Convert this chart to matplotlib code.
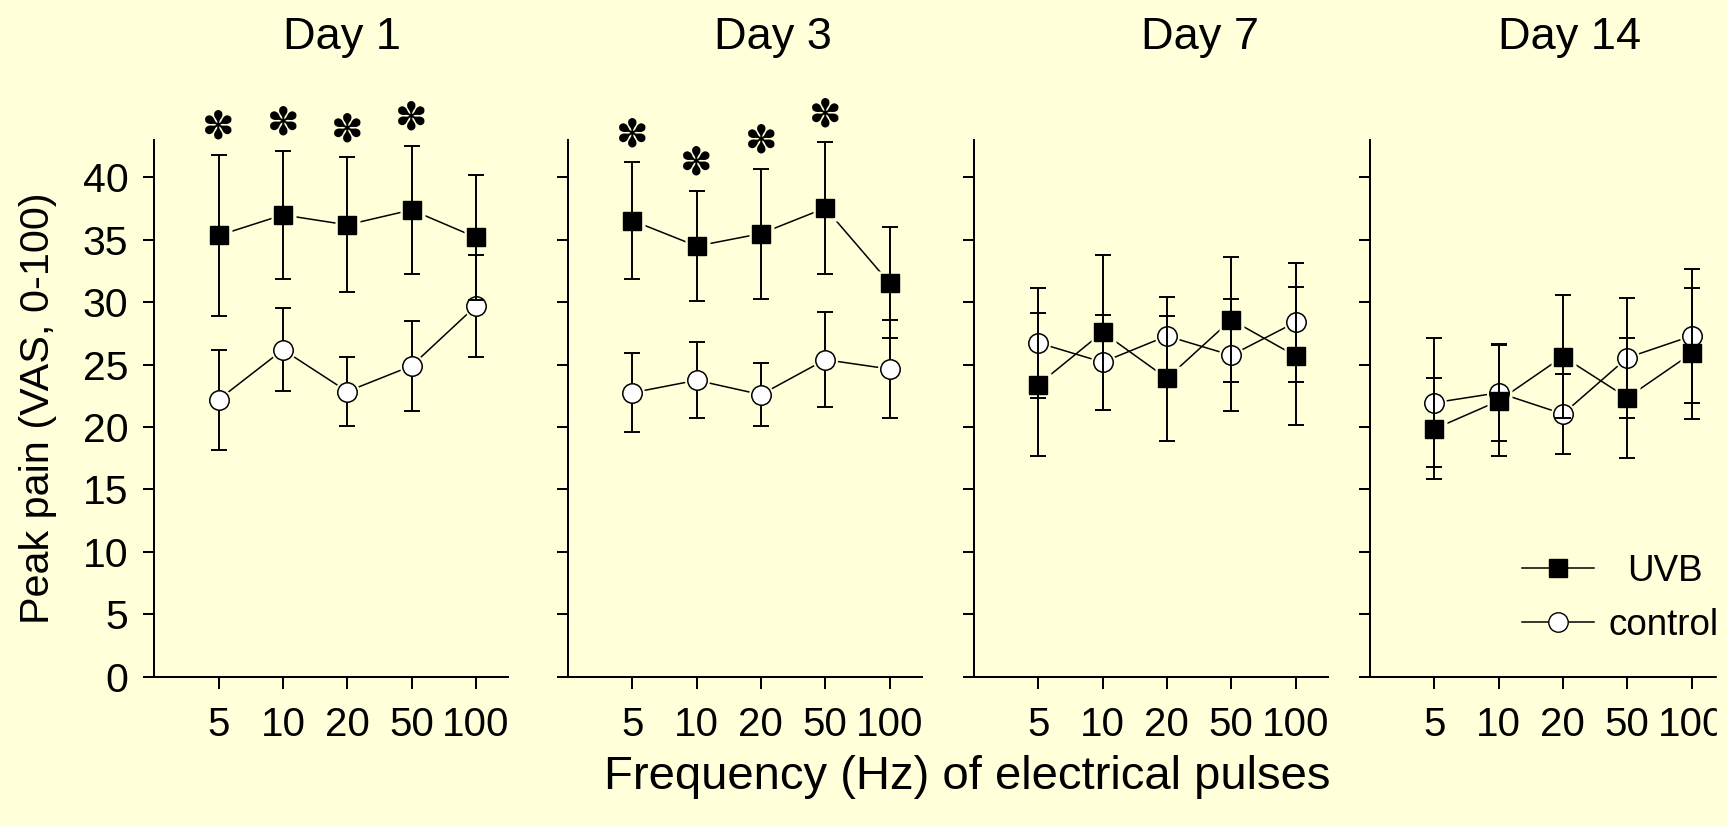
import matplotlib.pyplot as plt
from matplotlib.lines import Line2D
from matplotlib.patches import Rectangle
from matplotlib.transforms import blended_transform_factory

plt.rcParams['font.family'] = ['Liberation Sans', 'DejaVu Sans']

# peak pain (VAS 0-100), mean +/- error
freq_labels = ['5', '10', '20', '50', '100']
day_names = ['Day 1', 'Day 3', 'Day 7', 'Day 14']

uvb_d1 = [35.35, 37.0, 36.2, 37.4, 35.2]
uvb_d1_err = [6.45, 5.1, 5.4, 5.1, 5.0]
ctl_d1 = [22.2, 26.2, 22.85, 24.9, 29.7]
ctl_d1_err = [4.0, 3.3, 2.8, 3.6, 4.05]

uvb_d3 = [36.55, 34.5, 35.5, 37.55, 31.55]
uvb_d3_err = [4.65, 4.4, 5.2, 5.25, 4.45]
ctl_d3 = [22.75, 23.75, 22.6, 25.4, 24.65]
ctl_d3_err = [3.15, 3.05, 2.5, 3.8, 3.95]

uvb_d7 = [23.4, 27.6, 23.9, 28.6, 25.7]
uvb_d7_err = [5.7, 6.2, 5.0, 5.0, 5.5]
ctl_d7 = [26.75, 25.2, 27.3, 25.75, 28.4]
ctl_d7_err = [4.4, 3.8, 3.1, 4.5, 4.75]

uvb_d14 = [19.85, 22.1, 25.65, 22.35, 25.9]
uvb_d14_err = [4.05, 4.45, 4.95, 4.8, 5.25]
ctl_d14 = [21.95, 22.75, 21.05, 25.55, 27.3]
ctl_d14_err = [5.15, 3.9, 3.2, 4.8, 5.35]

# significant UVB vs control (asterisk)
sig_d1 = [1, 1, 1, 1, 0]
sig_d3 = [1, 1, 1, 1, 0]
sig_d7 = [0, 0, 0, 0, 0]
sig_d14 = [0, 0, 0, 0, 0]

panels = [
    (uvb_d1, uvb_d1_err, ctl_d1, ctl_d1_err, sig_d1),
    (uvb_d3, uvb_d3_err, ctl_d3, ctl_d3_err, sig_d3),
    (uvb_d7, uvb_d7_err, ctl_d7, ctl_d7_err, sig_d7),
    (uvb_d14, uvb_d14_err, ctl_d14, ctl_d14_err, sig_d14),
]

bg = '#ffffd9'
W, H = 1727, 826
fig = plt.figure(figsize=(W / 100, H / 100), dpi=100, facecolor=bg)

ax_left = [154.3, 568, 974, 1370]
ax_w = 353.7
title_x = [342, 772.5, 1200, 1570]
xpos = list(range(1, len(freq_labels) + 1))

for i, (uvb, uvb_err, ctl, ctl_err, sig) in enumerate(panels):
    ax = fig.add_axes([ax_left[i] / W, (H - 676.7) / H, ax_w / W, (676.7 - 140) / H])
    ax.set_facecolor(bg)

    # connecting lines, with a halo round each marker so lines stop short
    ax.plot(xpos, ctl, color='k', lw=1.1, zorder=1)
    ax.plot(xpos, uvb, color='k', lw=1.1, zorder=1)
    ax.plot(xpos, ctl, ls='none', marker='o', ms=18, mfc=bg, mec='none', zorder=1.5)
    ax.plot(xpos, uvb, ls='none', marker='s', ms=18, mfc=bg, mec='none', zorder=1.5)

    ax.errorbar(xpos, ctl, yerr=ctl_err, fmt='none', ecolor='k', elinewidth=1.4,
                capsize=6, capthick=1.4, zorder=3)
    ax.plot(xpos, ctl, ls='none', marker='o', ms=14, mfc='white', mec='k', mew=1.1, zorder=4)
    ax.errorbar(xpos, uvb, yerr=uvb_err, fmt='none', ecolor='k', elinewidth=1.4,
                capsize=6, capthick=1.4, zorder=5)
    ax.plot(xpos, uvb, ls='none', marker='s', ms=13.5, mfc='k', mec='k', zorder=6)

    for xp, m, e, s in zip(xpos, uvb, uvb_err, sig):
        if s:
            ax.text(xp, m + e + 2.2, '\u273d', family='DejaVu Sans', fontsize=28,
                    ha='center', va='center', clip_on=False)

    ax.set_xlim(0, 5.5)
    ax.set_ylim(0, 43)
    ax.set_xticks(xpos, freq_labels)
    ax.set_yticks(range(0, 41, 5))
    ax.tick_params(axis='x', direction='out', length=8.4, width=1.45, labelsize=29, pad=13)
    ax.tick_params(axis='y', direction='out', length=7.7, width=1.45, labelsize=29.5, pad=11)
    if i > 0:
        ax.tick_params(axis='y', labelleft=False)
    for side in ['top', 'right']:
        ax.spines[side].set_visible(False)
    for side in ['left', 'bottom']:
        ax.spines[side].set_linewidth(1.45)

    fig.text(title_x[i] / W, 0.9403, day_names[i], ha='center', va='baseline', fontsize=32.5)

    if i == 3:
        tr = blended_transform_factory(ax.transAxes, ax.transData)
        h_uvb = Line2D([], [], color='k', lw=1.1, marker='s', ms=13.5, mfc='k', mec='k')
        h_ctl = Line2D([], [], color='k', lw=1.1, marker='o', ms=14, mfc='white', mec='k')
        leg1 = ax.legend([h_uvb], ['UVB'], loc='center left', bbox_to_anchor=(0.43, 8.4),
                         bbox_transform=tr, frameon=False, fontsize=26.5, handlelength=1.95,
                         handletextpad=0.9, borderpad=0, borderaxespad=0)
        ax.add_artist(leg1)
        ax.legend([h_ctl], ['control'], loc='center left', bbox_to_anchor=(0.43, 4.1),
                  bbox_transform=tr, frameon=False, fontsize=26.5, handlelength=1.95,
                  handletextpad=0.4, borderpad=0, borderaxespad=0)

fig.text(38.5 / W, (H - 408) / H, 'Peak pain (VAS, 0-100)', rotation=90,
         ha='center', va='center', fontsize=29.8)
fig.text(967 / W, (H - 788.6) / H, 'Frequency (Hz) of electrical pulses',
         ha='center', va='baseline', fontsize=34)

# the original picture is cut off at its right edge
fig.add_artist(Rectangle((1717 / W, 0), 1 - 1717 / W, 1, transform=fig.transFigure,
                         color=bg, zorder=100))

fig.savefig('out.png', dpi=100, facecolor=bg)
